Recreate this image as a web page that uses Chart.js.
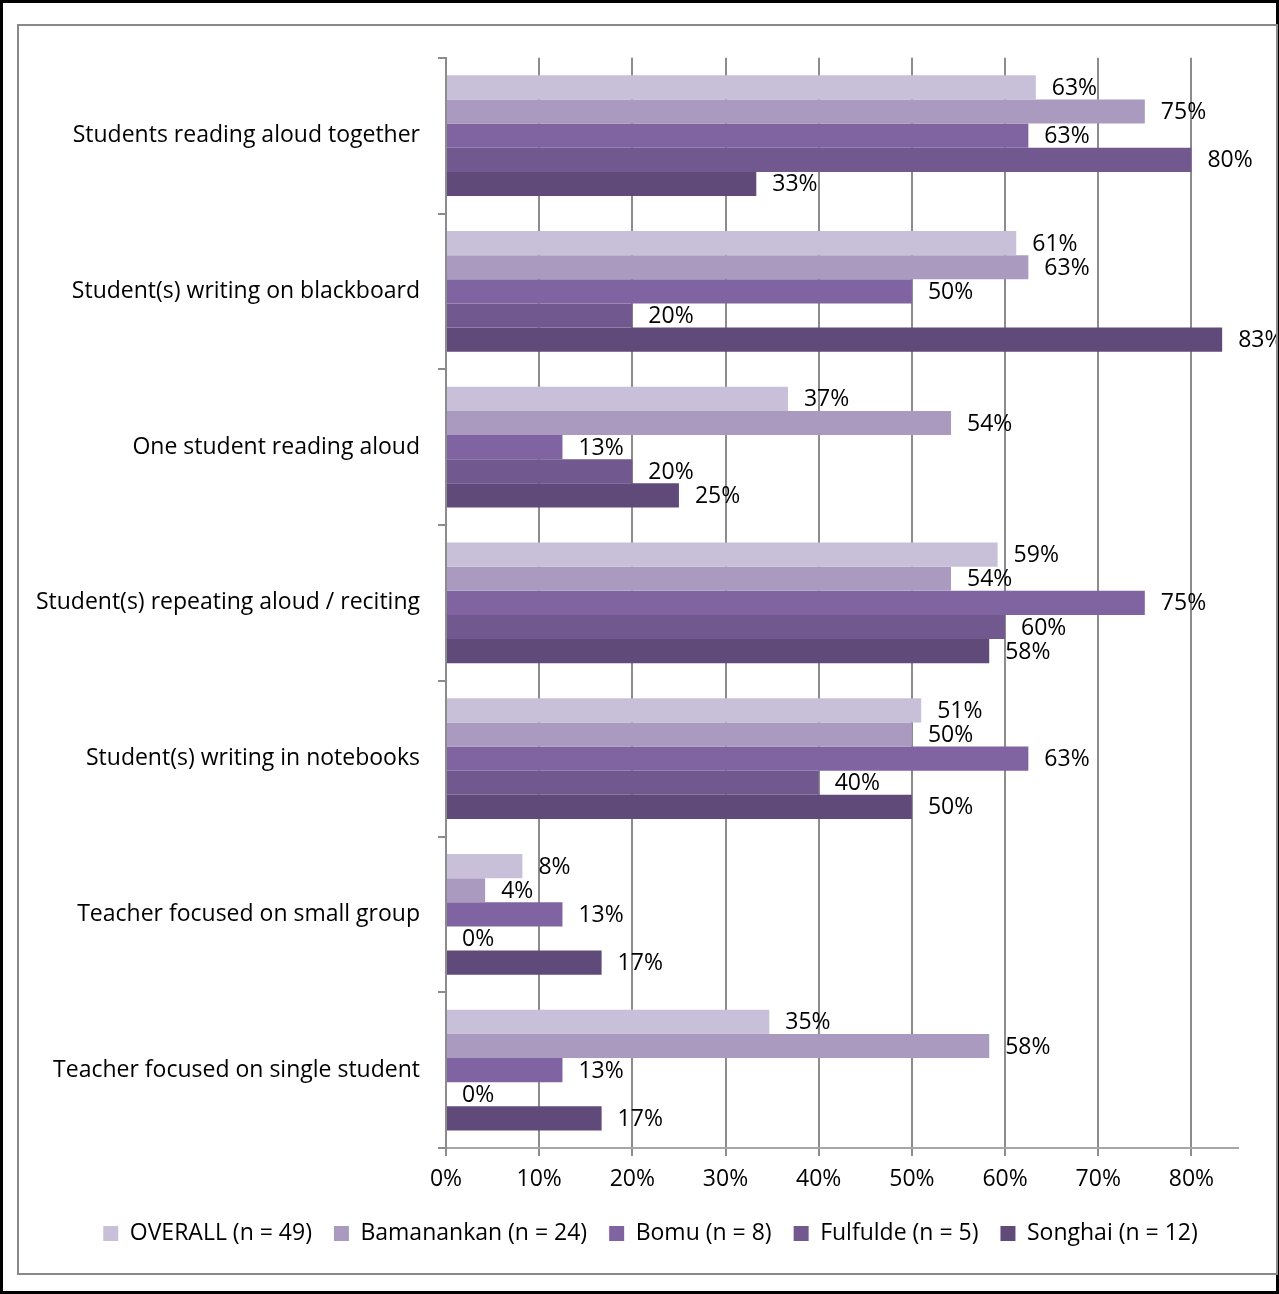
<!DOCTYPE html>
<html>
<head>
<meta charset="utf-8">
<script src="https://cdn.jsdelivr.net/npm/chart.js@4.4.1/dist/chart.umd.min.js"></script>
<style>
  html, body { margin: 0; padding: 0; background: #fff; }
  #outer { position: relative; width: 1279px; height: 1294px; box-sizing: border-box; border: 3px solid #000; }
  #frame { position: absolute; left: 14px; top: 21px; width: 1261px; height: 1251px; box-sizing: border-box; border: 2px solid #888; }
  #wrap { position: absolute; left: 0; top: 0; width: 1257px; height: 1247px; }
</style>
</head>
<body>
<div id="outer">
  <div id="frame">
    <div id="wrap"><canvas id="obsChart"></canvas></div>
  </div>
</div>
<script>
const categories = [
  "Students reading aloud together",
  "Student(s) writing on blackboard",
  "One student reading aloud",
  "Student(s) repeating aloud / reciting",
  "Student(s) writing in notebooks",
  "Teacher focused on small group",
  "Teacher focused on single student"
];
const overall    = [63.3, 61.2, 36.7, 59.2, 51.0, 8.2, 34.7];
const bamanankan = [75.0, 62.5, 54.2, 54.2, 50.0, 4.2, 58.3];
const bomu       = [62.5, 50.0, 12.5, 75.0, 62.5, 12.5, 12.5];
const fulfulde   = [80.0, 20.0, 20.0, 60.0, 40.0, 0, 0];
const songhai    = [33.3, 83.3, 25.0, 58.3, 50.0, 16.7, 16.7];
const seriesNames = ["OVERALL (n = 49)", "Bamanankan (n = 24)", "Bomu (n = 8)", "Fulfulde (n = 5)", "Songhai (n = 12)"];
const xTicks = [0, 10, 20, 30, 40, 50, 60, 70, 80];

const colors = ["#c8c0d8", "#aa9ac0", "#8064a2", "#71588f", "#5f4a7a"];
const font = "'Open Sans', 'DejaVu Sans', sans-serif";
Chart.defaults.font.family = font;
Chart.defaults.font.size = 23;
Chart.defaults.color = "#000";

// value labels at the end of each bar
const barLabels = {
  id: "barLabels",
  afterDatasetsDraw(chart) {
    const ctx = chart.ctx;
    ctx.save();
    ctx.font = "23px " + font;
    ctx.fillStyle = "#000";
    ctx.textAlign = "left";
    ctx.textBaseline = "middle";
    chart.data.datasets.forEach((ds, i) => {
      chart.getDatasetMeta(i).data.forEach((bar, j) => {
        ctx.fillText(Math.round(ds.data[j]) + "%", bar.x + 16, bar.y + 1);
      });
    });
    ctx.restore();
  }
};

// legend is centred under the whole frame, not the padded box
const legendShift = {
  id: "legendShift",
  afterLayout(chart) {
    chart.legend.left += 22;
    chart.legend.right += 22;
  }
};

const seriesData = [overall, bamanankan, bomu, fulfulde, songhai];

new Chart(document.getElementById("obsChart"), {
  type: "bar",
  data: {
    labels: categories,
    datasets: seriesData.map((d, i) => ({
      label: seriesNames[i],
      data: d,
      backgroundColor: colors[i],
      borderWidth: 0,
      categoryPercentage: 0.775,
      barPercentage: 1
    }))
  },
  options: {
    indexAxis: "y",
    responsive: true,
    maintainAspectRatio: false,
    animation: false,
    layout: { padding: { top: 31, right: 38, bottom: 18, left: 0 } },
    scales: {
      x: {
        min: 0,
        max: 85,
        afterBuildTicks: (axis) => { axis.ticks = xTicks.map(v => ({ value: v })); },
        afterFit: (scale) => { scale.height = 52; },
        ticks: { callback: (v) => v + "%", padding: 10, font: { size: 23 } },
        grid: { color: "#8c8c8c", lineWidth: 2, tickLength: 8 },
        border: { color: "#a6a6a6", width: 2 }
      },
      y: {
        afterFit: (scale) => { scale.width = 427; },
        ticks: { padding: 18, font: { size: 23 } },
        grid: { drawOnChartArea: false, color: "#8c8c8c", lineWidth: 2, tickLength: 8, offset: true },
        border: { color: "#8c8c8c", width: 2 }
      }
    },
    plugins: {
      legend: {
        position: "bottom",
        labels: { boxWidth: 15, boxHeight: 15, padding: 22, font: { size: 23 } }
      },
      tooltip: { enabled: false }
    }
  },
  plugins: [barLabels, legendShift]
});
</script>
</body>
</html>
